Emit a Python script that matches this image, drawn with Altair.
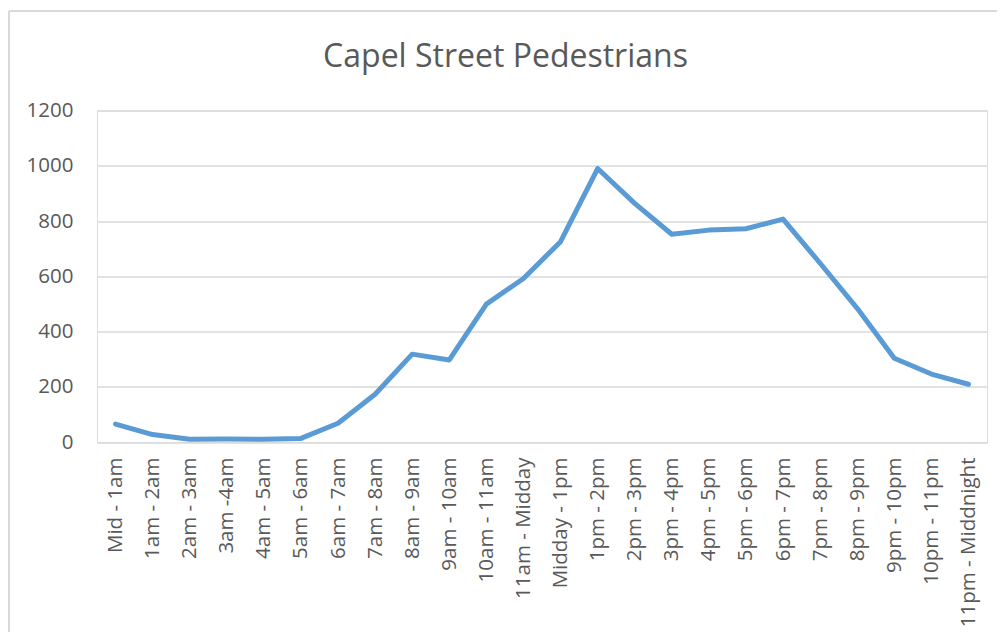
import altair as alt
import pandas as pd

title_text = "Capel Street Pedestrians"
categories = ["Mid - 1am", "1am - 2am", "2am - 3am", "3am -4am", "4am - 5am", "5am - 6am",
              "6am - 7am", "7am - 8am", "8am - 9am", "9am - 10am", "10am - 11am", "11am - Midday",
              "Midday - 1pm", "1pm - 2pm", "2pm - 3pm", "3pm - 4pm", "4pm - 5pm", "5pm - 6pm",
              "6pm - 7pm", "7pm - 8pm", "8pm - 9pm", "9pm - 10pm", "10pm - 11pm", "11pm - Middnight"]
pedestrians = [65, 27, 10, 11, 10, 13, 68, 173, 318, 297, 499, 592,
               725, 990, 864, 752, 767, 772, 807, 647, 484, 303, 246, 209]
y_ticks = [0, 200, 400, 600, 800, 1000, 1200]

df = pd.DataFrame({"slot": categories, "count": pedestrians})

FONT = "Open Sans"
GREY = "#595959"

line = alt.Chart(df).mark_line(color="#5B9BD5", strokeWidth=5, strokeJoin="round", strokeCap="round").encode(
    x=alt.X("slot:N", sort=categories, title=None,
            scale=alt.Scale(paddingInner=0, paddingOuter=0.5),
            axis=alt.Axis(labelAngle=-90, labelFont=FONT, labelFontSize=20.5, labelColor=GREY,
                          ticks=False, domain=False, grid=False, labelPadding=15, labelLimit=300)),
    y=alt.Y("count:Q", title=None,
            scale=alt.Scale(domain=[0, 1200], nice=False),
            axis=alt.Axis(values=y_ticks, format="d", labelFont=FONT, labelFontSize=20.5, labelColor=GREY,
                          ticks=False, domain=False, gridColor="#d9d9d9", gridWidth=1.3,
                          labelPadding=24))
)

border_top = alt.Chart(df).mark_rule(color="#d9d9d9", strokeWidth=1.3).encode(
    x=alt.value(-88), x2=alt.value(1000), y=alt.value(-99.5))
border_left = alt.Chart(df).mark_rule(color="#d9d9d9", strokeWidth=1.3).encode(
    x=alt.value(-88), y=alt.value(-99.5), y2=alt.value(700))

title = alt.Chart(pd.DataFrame({"t": [title_text]})).mark_text(
    font=FONT, fontSize=32, color=GREY, align="center", baseline="alphabetic").encode(
    text="t:N", x=alt.value(408.5), y=alt.value(-44))

chart = alt.layer(border_top, border_left, title, line).properties(
    width=890, height=331.5,
    autosize=alt.AutoSizeParams(type="none"),
    padding={"left": 89, "top": 102.5, "right": 10, "bottom": 190},
).configure_view(stroke=None).configure(background="white")

chart.save("out.html", embed_options={"renderer": "svg", "actions": False})
